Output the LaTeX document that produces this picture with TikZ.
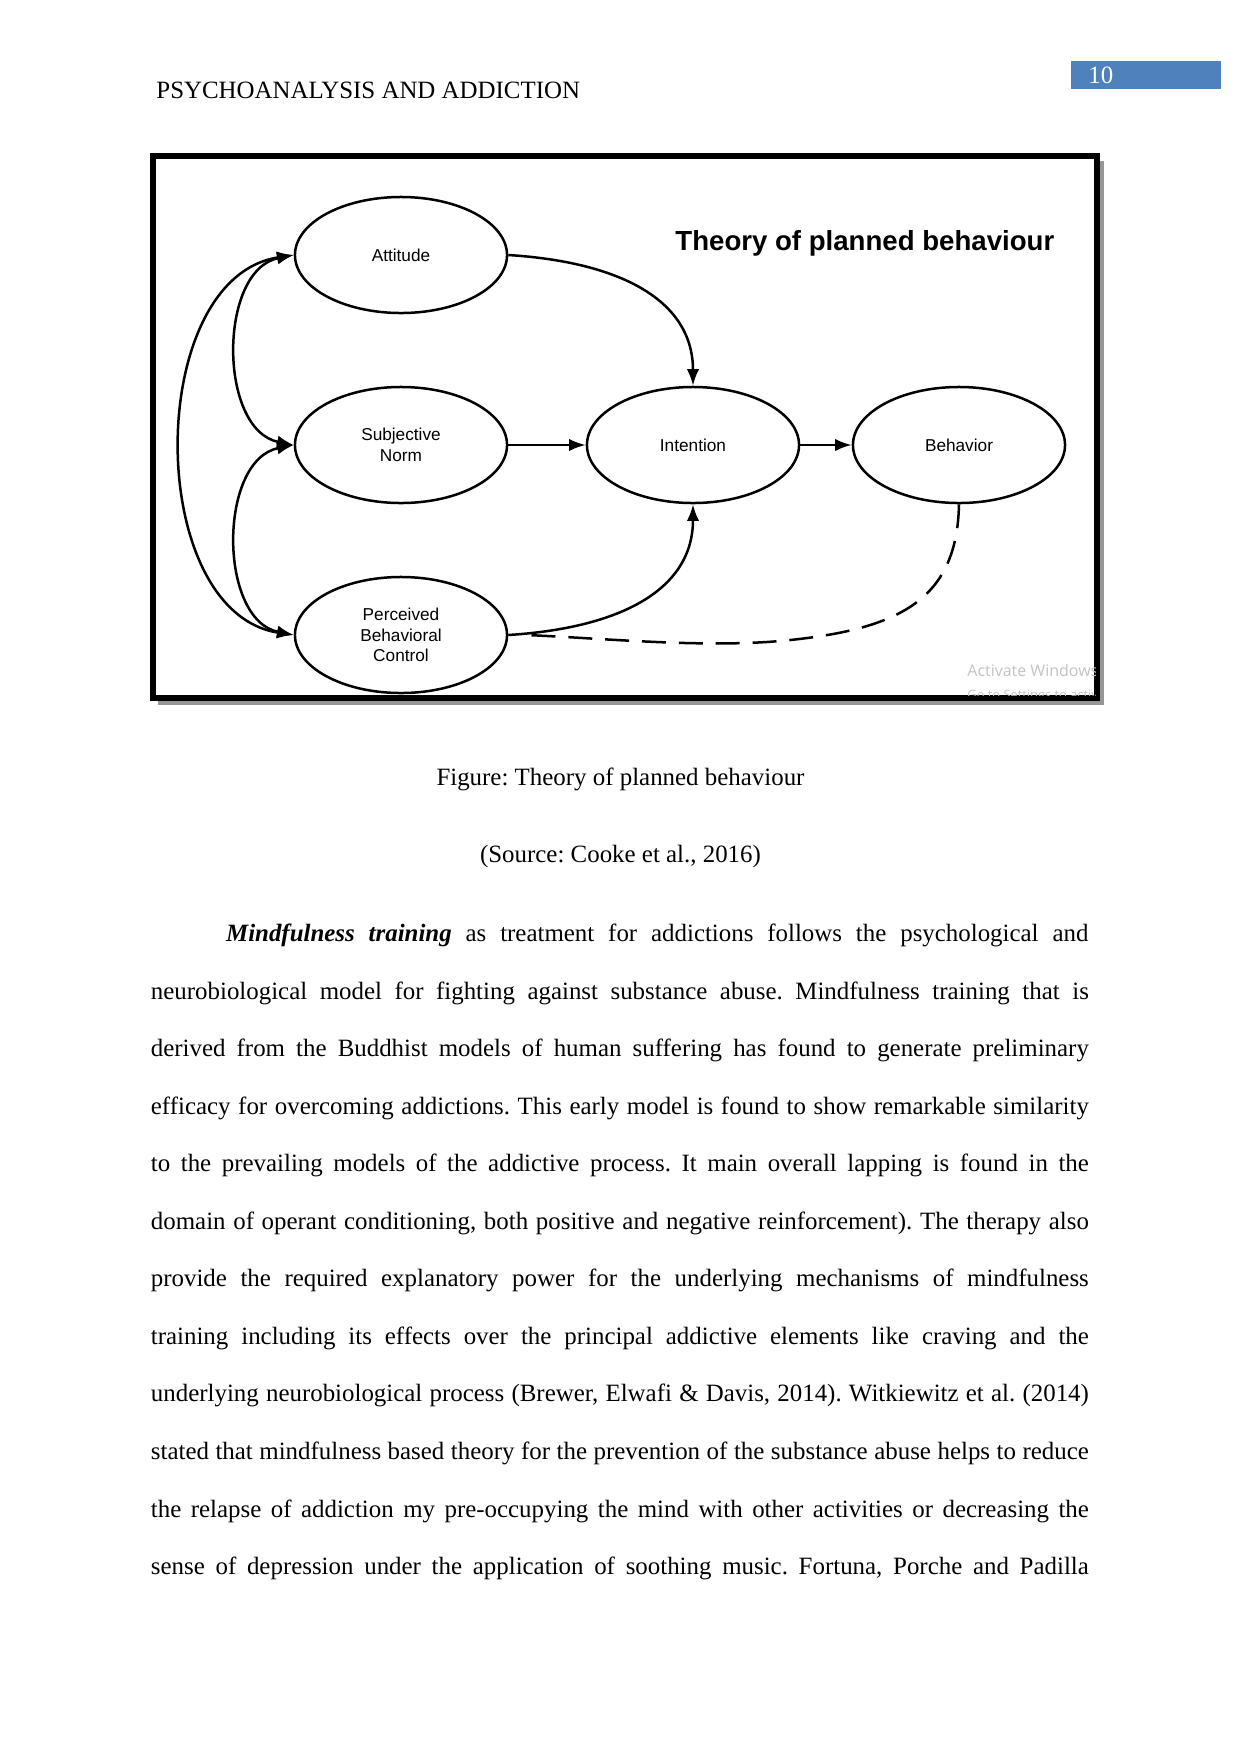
\documentclass[tikz,border=0pt]{standalone}
\usepackage{fontspec}
\setmainfont{Liberation Serif}
\newfontfamily\arialf{Liberation Sans}
\newfontfamily\winf{Open Sans}
\usetikzlibrary{shapes.geometric,arrows.meta}
\definecolor{hdrblue}{RGB}{79,129,189}
\definecolor{wmgray}{RGB}{195,195,195}
\definecolor{shadowgray}{RGB}{150,150,150}
\frenchspacing
\begin{document}
\begin{tikzpicture}[x=0.48bp,y=-0.48bp,
  oval/.style={ellipse,draw,line width=1.2bp,minimum width=101.8bp,minimum height=55.7bp,inner sep=0pt,
    font=\arialf\fontsize{8.3}{9.9}\selectfont,align=center},
  conn/.style={line width=1.2bp,-{Latex[length=8bp,width=6bp]}},
  both/.style={line width=1.2bp,{Latex[length=8bp,width=6bp]}-{Latex[length=8bp,width=6bp]}},
  modline/.style={line width=1.2bp,dash pattern=on 11.5bp off 6.2bp},
  serif12/.style={inner sep=0pt,font=\fontsize{12}{14}\selectfont},
  bodyline/.style={serif12,anchor=base west},
  wmtext/.style={anchor=base west,inner sep=0pt,text=wmgray}]
\useasboundingbox (0,0) rectangle (1241,1754);
\fill[white] (0,0) rectangle (1241,1754);

% header
\node[bodyline] (hdr) at (156,98) {PSYCHOANALYSIS AND ADDICTION};
\node[fill=hdrblue,anchor=north west,inner sep=0pt,minimum width=72bp,minimum height=13.44bp] (pgbox) at (1071,61) {};
\node[bodyline,text=white] (pgnum) at (1088,83) {10};

% figure frame with shadow
\fill[shadowgray] (158,161) rectangle (1104,705);
\fill[white] (153,156) rectangle (1097,698);
\draw[line width=2.88bp] (153,156) rectangle (1097,698);

% title
\node[anchor=base west,inner sep=0pt,font=\arialf\bfseries\fontsize{13.3}{16}\selectfont] (title) at (675,250) {Theory of planned behaviour};

% watermark
\begin{scope}
\clip (156,159) rectangle (1095,695);
\node[wmtext,font=\winf\fontsize{7.7}{9}\selectfont] (wm1) at (967,676) {Activate Windows};
\node[wmtext,font=\winf\fontsize{6.2}{8}\selectfont] (wm2) at (967,699) {Go to Settings to activate Windows.};
\end{scope}

% nodes
\node[oval] (att) at (401,255) {Attitude};
\node[oval] (sn) at (401,445) {Subjective\\Norm};
\node[oval] (pbc) at (401,635) {Perceived\\Behavioral\\Control};
\node[oval] (int) at (693,445) {Intention};
\node[oval] (beh) at (959,445) {Behavior};
\coordinate (modEnd) at (526,635);

% connectors
\draw[conn] (att.east) .. controls (620,262) and (693,300) .. (int.north);
\draw[conn] (sn.east) -- (int.west);
\draw[conn] (pbc.east) .. controls (620,628) and (693,590) .. (int.south);
\draw[conn] (int.east) -- (beh.west);
\draw[both] (att.west) .. controls (218,270) and (218,430) .. (sn.west);
\draw[both] (sn.west) .. controls (218,460) and (218,620) .. (pbc.west);
\draw[both] (att.west) .. controls (144,278) and (144,612) .. (pbc.west);
\draw[modline] (beh.south) .. controls (957,600) and (900,630) .. (780,641) .. controls (700,648) and (600,638) .. (modEnd);

% captions
\node[serif12,anchor=base] (cap1) at (620.5,785) {Figure: Theory of planned behaviour};
\node[serif12,anchor=base] (cap2) at (620.5,862) {(Source: Cooke et al., 2016)};

% body text
\node[bodyline] (l1) at (225.7,941.5) {\makebox[413.9bp][s]{\textbf{\textit{Mindfulness training}} as treatment for addictions follows the psychological and}};
\node[bodyline] (l2) at (150.5,999.05) {\makebox[450.2bp][s]{neurobiological model for fighting against substance abuse. Mindfulness training that is}};
\node[bodyline] (l3) at (150.5,1056.6) {\makebox[450.2bp][s]{derived from the Buddhist models of human suffering has found to generate preliminary}};
\node[bodyline] (l4) at (150.5,1114.15) {\makebox[450.2bp][s]{efficacy for overcoming addictions. This early model is found to show remarkable similarity}};
\node[bodyline] (l5) at (150.5,1171.7) {\makebox[450.2bp][s]{to the prevailing models of the addictive process. It main overall lapping is found in the}};
\node[bodyline] (l6) at (150.5,1229.25) {\makebox[450.2bp][s]{domain of operant conditioning, both positive and negative reinforcement). The therapy also}};
\node[bodyline] (l7) at (150.5,1286.8) {\makebox[450.2bp][s]{provide the required explanatory power for the underlying mechanisms of mindfulness}};
\node[bodyline] (l8) at (150.5,1344.35) {\makebox[450.2bp][s]{training including its effects over the principal addictive elements like craving and the}};
\node[bodyline] (l9) at (150.5,1401.9) {\makebox[450.2bp][s]{underlying neurobiological process (Brewer, Elwafi \& Davis, 2014). Witkiewitz et al. (2014)}};
\node[bodyline] (l10) at (150.5,1459.45) {\makebox[450.2bp][s]{stated that mindfulness based theory for the prevention of the substance abuse helps to reduce}};
\node[bodyline] (l11) at (150.5,1517.0) {\makebox[450.2bp][s]{the relapse of addiction my pre-occupying the mind with other activities or decreasing the}};
\node[bodyline] (l12) at (150.5,1574.55) {\makebox[450.2bp][s]{sense of depression under the application of soothing music. Fortuna, Porche and Padilla}};
\end{tikzpicture}
\end{document}
